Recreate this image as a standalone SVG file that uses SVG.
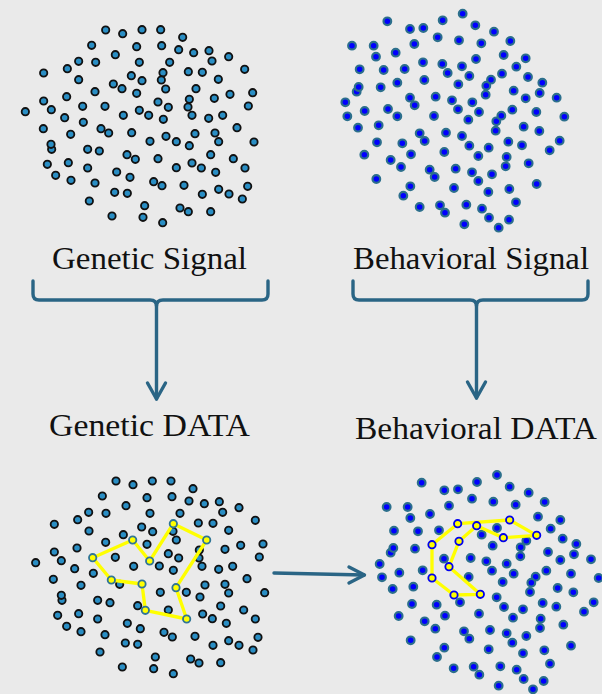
<svg xmlns="http://www.w3.org/2000/svg" width="602" height="694" viewBox="0 0 602 694">
<style>
.dk circle{fill:#2a8ec4;stroke:#111;stroke-width:5.5}
.dk circle{r:11px}
.bl circle{fill:#0000ff;stroke:#2c6f8c;stroke-width:6.5;r:11.5px}
.hy{fill:#ffff00;stroke:#2f7596;stroke-width:5.5;r:11px}
.hb{fill:#ffff00;stroke:#0000ee;stroke-width:5.5;r:11px}
.yl{fill:none;stroke:#ffff00;stroke-width:10;stroke-linejoin:round}
.lbl{font-family:"Liberation Serif","DejaVu Serif",serif;font-size:32px;fill:#111}
.con{fill:none;stroke:#2a6585;stroke-width:3.4;stroke-linecap:round;stroke-linejoin:round}
</style>
<rect width="602" height="694" fill="#eaeaea"/>

<g id="genetic-signal">
<g class="dk" transform="scale(0.33333)">
<circle cx="317" cy="90"/><circle cx="368" cy="101"/><circle cx="426" cy="89"/><circle cx="482" cy="89"/><circle cx="548" cy="112"/><circle cx="275" cy="136"/><circle cx="410" cy="140"/><circle cx="485" cy="137"/><circle cx="536" cy="149"/><circle cx="581" cy="158"/><circle cx="627" cy="152"/><circle cx="686" cy="170"/><circle cx="346" cy="164"/><circle cx="236" cy="184"/><circle cx="287" cy="187"/><circle cx="418" cy="187"/><circle cx="509" cy="187"/><circle cx="636" cy="183"/><circle cx="131" cy="219"/><circle cx="202" cy="206"/><circle cx="489" cy="218"/><circle cx="565" cy="215"/><circle cx="607" cy="217"/><circle cx="734" cy="208"/><circle cx="236" cy="239"/><circle cx="340" cy="252"/><circle cx="394" cy="227"/><circle cx="426" cy="242"/><circle cx="484" cy="240"/><circle cx="655" cy="238"/><circle cx="366" cy="266"/><circle cx="410" cy="280"/><circle cx="497" cy="267"/><circle cx="588" cy="266"/><circle cx="285" cy="275"/><circle cx="200" cy="290"/><circle cx="131" cy="303"/><circle cx="568" cy="298"/><circle cx="643" cy="295"/><circle cx="690" cy="283"/><circle cx="758" cy="278"/><circle cx="154" cy="329"/><circle cx="248" cy="319"/><circle cx="315" cy="319"/><circle cx="474" cy="306"/><circle cx="505" cy="322"/><circle cx="564" cy="321"/><circle cx="745" cy="318"/><circle cx="76" cy="335"/><circle cx="194" cy="353"/><circle cx="370" cy="346"/><circle cx="418" cy="331"/><circle cx="446" cy="346"/><circle cx="490" cy="358"/><circle cx="576" cy="346"/><circle cx="626" cy="355"/><circle cx="668" cy="346"/><circle cx="250" cy="367"/><circle cx="130" cy="386"/><circle cx="212" cy="403"/><circle cx="303" cy="386"/><circle cx="326" cy="399"/><circle cx="395" cy="398"/><circle cx="498" cy="409"/><circle cx="585" cy="401"/><circle cx="645" cy="399"/><circle cx="711" cy="383"/><circle cx="155" cy="448"/><circle cx="153" cy="433"/><circle cx="450" cy="424"/><circle cx="529" cy="425"/><circle cx="568" cy="437"/><circle cx="656" cy="425"/><circle cx="762" cy="426"/><circle cx="263" cy="448"/><circle cx="298" cy="453"/><circle cx="381" cy="464"/><circle cx="406" cy="478"/><circle cx="474" cy="476"/><circle cx="632" cy="464"/><circle cx="700" cy="476"/><circle cx="142" cy="493"/><circle cx="205" cy="488"/><circle cx="263" cy="504"/><circle cx="576" cy="489"/><circle cx="604" cy="504"/><circle cx="529" cy="503"/><circle cx="735" cy="504"/><circle cx="167" cy="526"/><circle cx="213" cy="541"/><circle cx="350" cy="516"/><circle cx="390" cy="532"/><circle cx="647" cy="517"/><circle cx="285" cy="549"/><circle cx="461" cy="545"/><circle cx="486" cy="557"/><circle cx="552" cy="556"/><circle cx="743" cy="559"/><circle cx="344" cy="577"/><circle cx="382" cy="580"/><circle cx="656" cy="568"/><circle cx="607" cy="583"/><circle cx="687" cy="582"/><circle cx="727" cy="597"/><circle cx="268" cy="603"/><circle cx="434" cy="617"/><circle cx="540" cy="624"/><circle cx="565" cy="635"/><circle cx="632" cy="635"/><circle cx="336" cy="648"/><circle cx="429" cy="652"/><circle cx="488" cy="668"/>
</g>
<text class="lbl" x="52" y="269" textLength="195" lengthAdjust="spacingAndGlyphs">Genetic Signal</text>
</g>

<g id="behavioral-signal">
<g class="bl" transform="translate(300,0) scale(0.33333)">
<circle cx="262" cy="64"/><circle cx="330" cy="87"/><circle cx="370" cy="84"/><circle cx="428" cy="61"/><circle cx="488" cy="41"/><circle cx="526" cy="76"/><circle cx="582" cy="95"/><circle cx="413" cy="112"/><circle cx="477" cy="121"/><circle cx="544" cy="130"/><circle cx="631" cy="123"/><circle cx="156" cy="137"/><circle cx="221" cy="137"/><circle cx="228" cy="170"/><circle cx="287" cy="158"/><circle cx="343" cy="132"/><circle cx="528" cy="177"/><circle cx="611" cy="165"/><circle cx="677" cy="175"/><circle cx="179" cy="208"/><circle cx="251" cy="210"/><circle cx="314" cy="207"/><circle cx="369" cy="187"/><circle cx="427" cy="192"/><circle cx="443" cy="219"/><circle cx="486" cy="199"/><circle cx="508" cy="228"/><circle cx="573" cy="239"/><circle cx="606" cy="221"/><circle cx="649" cy="200"/><circle cx="684" cy="231"/><circle cx="727" cy="248"/><circle cx="170" cy="275"/><circle cx="176" cy="261"/><circle cx="242" cy="262"/><circle cx="292" cy="248"/><circle cx="373" cy="240"/><circle cx="475" cy="253"/><circle cx="559" cy="257"/><circle cx="557" cy="284"/><circle cx="641" cy="272"/><circle cx="677" cy="295"/><circle cx="719" cy="279"/><circle cx="770" cy="293"/><circle cx="136" cy="307"/><circle cx="330" cy="293"/><circle cx="344" cy="316"/><circle cx="407" cy="290"/><circle cx="456" cy="301"/><circle cx="474" cy="328"/><circle cx="517" cy="307"/><circle cx="537" cy="336"/><circle cx="505" cy="359"/><circle cx="589" cy="364"/><circle cx="604" cy="347"/><circle cx="637" cy="329"/><circle cx="709" cy="336"/><circle cx="793" cy="350"/><circle cx="142" cy="349"/><circle cx="194" cy="333"/><circle cx="264" cy="327"/><circle cx="292" cy="349"/><circle cx="402" cy="348"/><circle cx="174" cy="383"/><circle cx="236" cy="376"/><circle cx="359" cy="400"/><circle cx="374" cy="423"/><circle cx="438" cy="398"/><circle cx="486" cy="408"/><circle cx="587" cy="392"/><circle cx="671" cy="380"/><circle cx="718" cy="393"/><circle cx="231" cy="427"/><circle cx="307" cy="430"/><circle cx="508" cy="437"/><circle cx="566" cy="443"/><circle cx="625" cy="425"/><circle cx="666" cy="436"/><circle cx="779" cy="422"/><circle cx="749" cy="451"/><circle cx="193" cy="464"/><circle cx="272" cy="480"/><circle cx="333" cy="463"/><circle cx="433" cy="456"/><circle cx="535" cy="468"/><circle cx="620" cy="471"/><circle cx="617" cy="499"/><circle cx="686" cy="490"/><circle cx="303" cy="501"/><circle cx="389" cy="509"/><circle cx="404" cy="531"/><circle cx="467" cy="506"/><circle cx="516" cy="517"/><circle cx="576" cy="523"/><circle cx="535" cy="543"/><circle cx="229" cy="537"/><circle cx="331" cy="559"/><circle cx="310" cy="587"/><circle cx="462" cy="564"/><circle cx="565" cy="576"/><circle cx="628" cy="567"/><circle cx="710" cy="552"/><circle cx="359" cy="621"/><circle cx="420" cy="616"/><circle cx="435" cy="638"/><circle cx="499" cy="614"/><circle cx="546" cy="626"/><circle cx="567" cy="653"/><circle cx="648" cy="607"/><circle cx="627" cy="659"/><circle cx="493" cy="673"/><circle cx="596" cy="683"/>
</g>
<text class="lbl" x="353" y="269" textLength="236" lengthAdjust="spacingAndGlyphs">Behavioral Signal</text>
</g>

<g id="genetic-data">
<text class="lbl" x="49" y="436" textLength="201" lengthAdjust="spacingAndGlyphs">Genetic DATA</text>
<g transform="translate(0,460) scale(0.33333)">
<g class="dk">
<circle cx="348" cy="63"/><circle cx="399" cy="74"/><circle cx="457" cy="63"/><circle cx="513" cy="63"/><circle cx="579" cy="86"/><circle cx="307" cy="108"/><circle cx="441" cy="113"/><circle cx="516" cy="110"/><circle cx="567" cy="123"/><circle cx="613" cy="131"/><circle cx="658" cy="125"/><circle cx="668" cy="157"/><circle cx="717" cy="143"/><circle cx="378" cy="137"/><circle cx="266" cy="157"/><circle cx="318" cy="160"/><circle cx="450" cy="160"/><circle cx="540" cy="160"/><circle cx="233" cy="179"/><circle cx="163" cy="193"/><circle cx="595" cy="189"/><circle cx="639" cy="190"/><circle cx="766" cy="181"/><circle cx="267" cy="213"/><circle cx="425" cy="201"/><circle cx="458" cy="215"/><circle cx="519" cy="214"/><circle cx="686" cy="211"/><circle cx="370" cy="224"/><circle cx="317" cy="247"/><circle cx="441" cy="253"/><circle cx="529" cy="240"/><circle cx="598" cy="270"/><circle cx="675" cy="268"/><circle cx="722" cy="256"/><circle cx="789" cy="252"/><circle cx="231" cy="264"/><circle cx="163" cy="276"/><circle cx="184" cy="302"/><circle cx="346" cy="292"/><circle cx="505" cy="281"/><circle cx="536" cy="294"/><circle cx="597" cy="294"/><circle cx="778" cy="291"/><circle cx="107" cy="308"/><circle cx="224" cy="326"/><circle cx="401" cy="319"/><circle cx="478" cy="318"/><circle cx="520" cy="331"/><circle cx="606" cy="319"/><circle cx="656" cy="328"/><circle cx="698" cy="319"/><circle cx="280" cy="340"/><circle cx="160" cy="358"/><circle cx="243" cy="376"/><circle cx="359" cy="373"/><circle cx="615" cy="375"/><circle cx="675" cy="373"/><circle cx="741" cy="356"/><circle cx="481" cy="397"/><circle cx="559" cy="397"/><circle cx="600" cy="411"/><circle cx="686" cy="399"/><circle cx="794" cy="398"/><circle cx="186" cy="421"/><circle cx="184" cy="406"/><circle cx="293" cy="421"/><circle cx="330" cy="428"/><circle cx="413" cy="437"/><circle cx="505" cy="450"/><circle cx="662" cy="438"/><circle cx="731" cy="450"/><circle cx="173" cy="466"/><circle cx="236" cy="461"/><circle cx="293" cy="477"/><circle cx="608" cy="462"/><circle cx="637" cy="476"/><circle cx="679" cy="490"/><circle cx="766" cy="477"/><circle cx="200" cy="499"/><circle cx="243" cy="515"/><circle cx="382" cy="490"/><circle cx="421" cy="506"/><circle cx="492" cy="517"/><circle cx="517" cy="531"/><circle cx="585" cy="529"/><circle cx="315" cy="524"/><circle cx="376" cy="549"/><circle cx="413" cy="553"/><circle cx="639" cy="556"/><circle cx="686" cy="542"/><circle cx="717" cy="556"/><circle cx="759" cy="570"/><circle cx="774" cy="532"/><circle cx="300" cy="576"/><circle cx="466" cy="591"/><circle cx="572" cy="597"/><circle cx="597" cy="609"/><circle cx="662" cy="608"/><circle cx="367" cy="621"/><circle cx="461" cy="626"/><circle cx="520" cy="641"/>
</g>
<polygon class="yl" points="278,293 398,240 449,303 520,191 620,240 528,383 560,477 436,451 426,372 334,360"/>
<circle class="hy" cx="278" cy="293"/><circle class="hy" cx="398" cy="240"/><circle class="hy" cx="449" cy="303"/><circle class="hy" cx="520" cy="191"/><circle class="hy" cx="620" cy="240"/><circle class="hy" cx="334" cy="360"/><circle class="hy" cx="426" cy="372"/><circle class="hy" cx="528" cy="383"/><circle class="hy" cx="436" cy="451"/><circle class="hy" cx="560" cy="477"/>
</g>
</g>

<g id="behavioral-data">
<text class="lbl" x="355" y="439" textLength="242" lengthAdjust="spacingAndGlyphs">Behavioral DATA</text>
<g transform="translate(300,460) scale(0.33333)">
<g class="bl">
<circle cx="365" cy="68"/><circle cx="433" cy="91"/><circle cx="474" cy="88"/><circle cx="531" cy="66"/><circle cx="591" cy="45"/><circle cx="629" cy="80"/><circle cx="686" cy="98"/><circle cx="516" cy="116"/><circle cx="580" cy="125"/><circle cx="647" cy="134"/><circle cx="734" cy="126"/><circle cx="447" cy="137"/><circle cx="260" cy="141"/><circle cx="323" cy="141"/><circle cx="331" cy="174"/><circle cx="390" cy="162"/><circle cx="714" cy="170"/><circle cx="781" cy="180"/><circle cx="752" cy="206"/><circle cx="282" cy="212"/><circle cx="354" cy="214"/><circle cx="417" cy="211"/><circle cx="545" cy="224"/><circle cx="591" cy="204"/><circle cx="679" cy="242"/><circle cx="662" cy="262"/><circle cx="788" cy="236"/><circle cx="829" cy="252"/><circle cx="272" cy="278"/><circle cx="280" cy="264"/><circle cx="345" cy="266"/><circle cx="578" cy="257"/><circle cx="744" cy="276"/><circle cx="822" cy="283"/><circle cx="873" cy="298"/><circle cx="781" cy="300"/><circle cx="239" cy="312"/><circle cx="432" cy="296"/><circle cx="512" cy="294"/><circle cx="559" cy="304"/><circle cx="620" cy="311"/><circle cx="661" cy="289"/><circle cx="246" cy="352"/><circle cx="298" cy="338"/><circle cx="368" cy="331"/><circle cx="506" cy="351"/><circle cx="576" cy="332"/><circle cx="641" cy="341"/><circle cx="707" cy="350"/><circle cx="739" cy="332"/><circle cx="694" cy="368"/><circle cx="813" cy="341"/><circle cx="896" cy="354"/><circle cx="278" cy="387"/><circle cx="340" cy="380"/><circle cx="608" cy="366"/><circle cx="690" cy="396"/><circle cx="773" cy="384"/><circle cx="820" cy="397"/><circle cx="336" cy="432"/><circle cx="410" cy="434"/><circle cx="480" cy="427"/><circle cx="590" cy="412"/><circle cx="612" cy="441"/><circle cx="669" cy="448"/><circle cx="728" cy="429"/><circle cx="769" cy="440"/><circle cx="881" cy="427"/><circle cx="852" cy="455"/><circle cx="296" cy="468"/><circle cx="435" cy="467"/><circle cx="537" cy="461"/><circle cx="639" cy="473"/><circle cx="722" cy="476"/><circle cx="720" cy="504"/><circle cx="790" cy="494"/><circle cx="374" cy="484"/><circle cx="406" cy="506"/><circle cx="492" cy="514"/><circle cx="508" cy="536"/><circle cx="570" cy="510"/><circle cx="620" cy="520"/><circle cx="679" cy="528"/><circle cx="637" cy="548"/><circle cx="332" cy="541"/><circle cx="433" cy="563"/><circle cx="411" cy="591"/><circle cx="566" cy="568"/><circle cx="669" cy="580"/><circle cx="733" cy="571"/><circle cx="813" cy="557"/><circle cx="750" cy="611"/><circle cx="461" cy="625"/><circle cx="521" cy="620"/><circle cx="538" cy="644"/><circle cx="601" cy="619"/><circle cx="650" cy="629"/><circle cx="671" cy="657"/><circle cx="731" cy="663"/><circle cx="596" cy="677"/><circle cx="699" cy="688"/>
</g>
<polygon class="yl" points="473,191 396,254 396,354 462,405 541,403 447,320 477,244 530,197 610,233 710,226 629,180"/>
<circle class="hb" cx="473" cy="191"/><circle class="hb" cx="530" cy="197"/><circle class="hb" cx="629" cy="180"/><circle class="hb" cx="710" cy="226"/><circle class="hb" cx="610" cy="233"/><circle class="hb" cx="396" cy="254"/><circle class="hb" cx="477" cy="244"/><circle class="hb" cx="447" cy="320"/><circle class="hb" cx="396" cy="354"/><circle class="hb" cx="462" cy="405"/><circle class="hb" cx="541" cy="403"/>
</g>
</g>

<g id="connectors" class="con">
<path d="M33,281 V294 Q33,300 39,300 H150 Q156.5,300 156.5,306 V399"/>
<path d="M156.5,306 Q156.5,300 163,300 H262 Q268,300 268,294 V281"/>
<path d="M147.5,383 L156.5,399 L165.5,383"/>
<path d="M353,281 V294 Q353,300 359,300 H470 Q476.5,300 476.5,306 V398"/>
<path d="M476.5,306 Q476.5,300 483,300 H582 Q588,300 588,294 V281"/>
<path d="M467.5,382 L476.5,398 L485.5,382"/>
<path d="M274,573 L364,575"/>
<path d="M349,567 L364.5,575 L349,583"/>
</g>
</svg>
